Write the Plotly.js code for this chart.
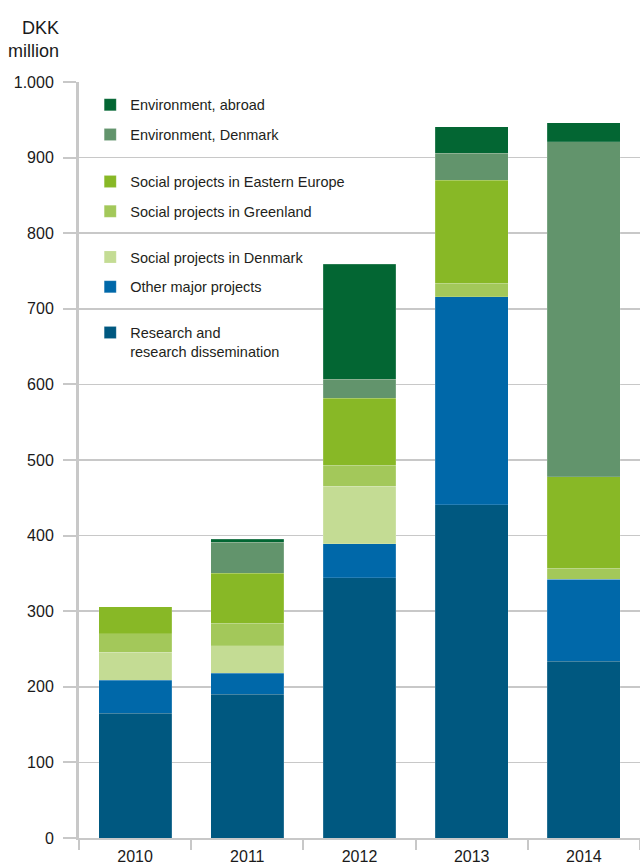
<!DOCTYPE html>
<html>
<head>
<meta charset="utf-8">
<script src="https://cdn.plot.ly/plotly-3.0.1.min.js"></script>
<style>html,body{margin:0;padding:0;background:#fff;}</style>
</head>
<body>
<div id="chart" style="width:640px;height:868px;"></div>
<script>
var years = ['2010', '2011', '2012', '2013', '2014'];
var research = [165, 190, 344, 441, 234];
var otherMajor = [44, 28, 45, 275, 108];
var socialDenmark = [37, 36, 76, 0, 0];
var socialGreenland = [24, 30, 28, 18, 15];
var socialEastEurope = [36, 66, 89, 136, 121];
var envDenmark = [0, 41, 25, 36, 443];
var envAbroad = [0, 4, 152, 35, 25];

var seriesNames = ['Research and<br>research dissemination', 'Other major projects', 'Social projects in Denmark',
  'Social projects in Greenland', 'Social projects in Eastern Europe', 'Environment, Denmark', 'Environment, abroad'];
var seriesValues = [research, otherMajor, socialDenmark, socialGreenland, socialEastEurope, envDenmark, envAbroad];
var seriesColors = ['#005880', '#0068a9', '#c4dc94', '#a3c85a', '#88b826', '#62946c', '#036633'];
var seriesLegend = ['legend4', 'legend3', 'legend3', 'legend2', 'legend2', 'legend', 'legend'];

var traces = seriesValues.map(function (vals, i) {
  return {
    type: 'bar', x: years, y: vals, name: seriesNames[i],
    marker: {color: seriesColors[i], line: {color: 'rgba(255,255,255,0.25)', width: 0.6}},
    legend: seriesLegend[i], legendgroup: 'g' + i, legendrank: 100 - i, hoverinfo: 'skip'
  };
});

var font = {family: 'Liberation Sans, Arial, sans-serif', size: 16, color: '#1a1a1a'};
var legBase = {
  xref: 'paper', yref: 'paper', x: 0.02, xanchor: 'left', yanchor: 'middle',
  bgcolor: 'rgba(0,0,0,0)', borderwidth: 0, traceorder: 'grouped', tracegroupgap: 8,
  font: {family: 'Liberation Sans, Arial, sans-serif', size: 14.5, color: '#231f20'}
};
function leg(y, extra) { var o = Object.assign({}, legBase, {y: y}); return Object.assign(o, extra || {}); }

var layout = {
  width: 640, height: 868,
  margin: {l: 79, r: 0, t: 82, b: 30},
  paper_bgcolor: '#fff', plot_bgcolor: '#fff',
  font: font,
  separators: ',.',
  barmode: 'stack', bargap: 0.35,
  hovermode: false,
  showlegend: true,
  legend: leg(0.950),
  legend2: leg(0.8486),
  legend3: leg(0.7487),
  legend4: leg(0.656, {valign: 'top'}),
  xaxis: {
    type: 'category', showgrid: false, zeroline: false,
    showline: true, linecolor: '#c8c8c8', linewidth: 2,
    ticks: 'outside', tickson: 'boundaries', ticklen: 10, tickwidth: 2, tickcolor: '#c8c8c8',
    tickfont: font, ticklabelstandoff: 3
  },
  yaxis: {
    range: [0, 1000], dtick: 100, tick0: 0, separatethousands: true,
    showgrid: true, gridcolor: '#c8c8c8', gridwidth: 1.5, zeroline: false,
    showline: true, linecolor: '#c8c8c8', linewidth: 3,
    ticks: 'outside', ticklen: 13, tickwidth: 2, tickcolor: '#c8c8c8',
    tickfont: font, ticklabelstandoff: 6
  },
  annotations: [{
    xref: 'paper', yref: 'paper', x: -0.032, y: 1.087, xanchor: 'right', yanchor: 'top',
    text: 'DKK<br>million', showarrow: false, align: 'right',
    font: {family: 'Liberation Sans, Arial, sans-serif', size: 18, color: '#1a1a1a'}
  }]
};

Plotly.newPlot('chart', traces, layout, {staticPlot: true, displayModeBar: false});
</script>
</body>
</html>
